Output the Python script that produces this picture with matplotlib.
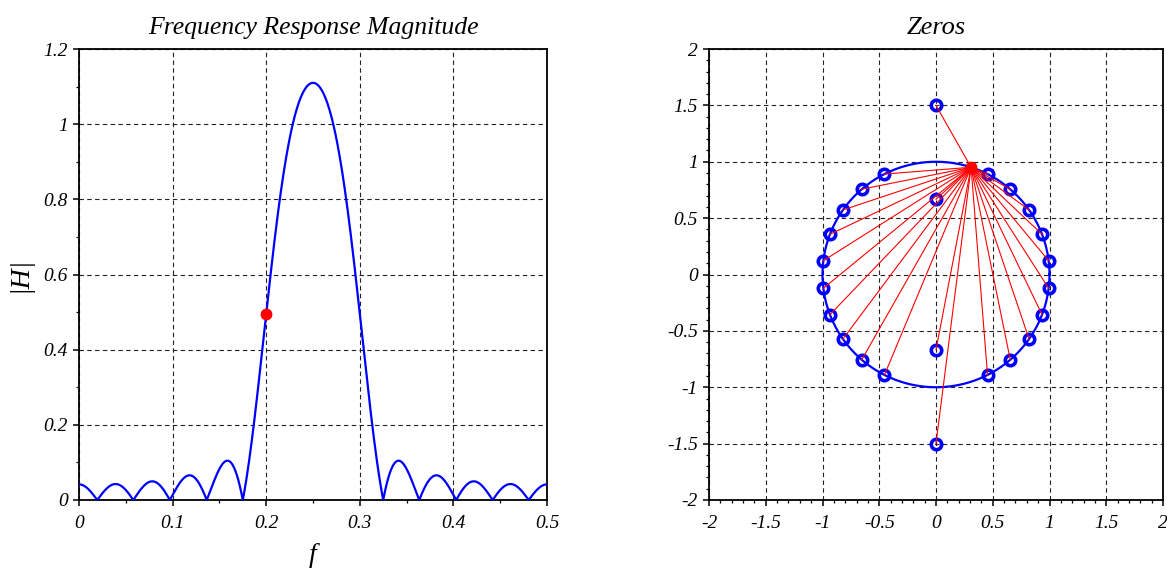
import numpy as np
import matplotlib
matplotlib.use("Agg")
import matplotlib.pyplot as plt
from matplotlib.ticker import FixedLocator, MultipleLocator

plt.rcParams['font.family'] = ['Liberation Serif', 'DejaVu Serif']
plt.rcParams['axes.unicode_minus'] = False

# ---- data ----
# null frequencies (zeros on the unit circle, upper half plane)
null_f_low = [0.0195, 0.058, 0.097, 0.1365, 0.175]
null_f_high = [0.325, 0.3635, 0.403, 0.442, 0.4805]
# zeros on the imaginary axis (radii, both signs)
imag_zero_radii = [0.667, 1.5]
peak_gain = 1.11          # |H| at the passband peak
probe_f = 0.2             # highlighted frequency (red dot)

left_xticks = [0, 0.1, 0.2, 0.3, 0.4, 0.5]
left_xlabels = ['0', '0.1', '0.2', '0.3', '0.4', '0.5']
left_yticks = [0, 0.2, 0.4, 0.6, 0.8, 1.0, 1.2]
left_ylabels = ['0', '0.2', '0.4', '0.6', '0.8', '1', '1.2']
right_ticks = [-2, -1.5, -1, -0.5, 0, 0.5, 1, 1.5, 2]
right_labels = ['-2', '-1.5', '-1', '-0.5', '0', '0.5', '1', '1.5', '2']

# ---- build zeros ----
null_f = np.array(null_f_low + null_f_high)
zeros = list(np.exp(2j * np.pi * null_f)) + list(np.exp(-2j * np.pi * null_f))
for r in imag_zero_radii:
    zeros += [1j * r, -1j * r]
zeros = np.array(zeros)

f = np.linspace(0, 0.5, 2001)
def mag(freq):
    zz = np.exp(2j * np.pi * np.atleast_1d(freq))
    return np.abs(np.prod(zz[:, None] - zeros[None, :], axis=1))
H = mag(f)
K = peak_gain / H.max()
H = K * H
Hp = K * mag(probe_f)[0]
zp = np.exp(2j * np.pi * probe_f)

# ---- figure ----
W, Hh = 1167, 569
fig = plt.figure(figsize=(W / 100, Hh / 100), dpi=100)
axL = fig.add_axes([79 / W, (Hh - 500) / Hh, 468 / W, 451 / Hh])
axR = fig.add_axes([709 / W, (Hh - 500) / Hh, 454 / W, 451 / Hh])

tick_font = dict(fontsize=14, fontstyle='italic')
grid_kw = dict(color='#222222', linestyle=(0, (4, 3)), linewidth=0.8)

def style(ax):
    for s in ax.spines.values():
        s.set_linewidth(1.3)
    ax.tick_params(which='major', direction='out', length=4, width=1.1,
                   top=False, right=False, pad=4)
    ax.tick_params(which='minor', direction='out', length=2.5, width=0.9,
                   top=False, right=False)
    ax.grid(True, which='major', **grid_kw)
    ax.set_axisbelow(True)

# left panel
axL.plot(f, H, color='#0000ff', lw=1.6, zorder=3)
axL.plot([probe_f], [Hp], 'o', color='#ff0000', ms=7.5, zorder=4)
axL.set_xlim(0, 0.5)
axL.set_ylim(0, 1.2)
axL.xaxis.set_major_locator(FixedLocator(left_xticks))
axL.yaxis.set_major_locator(FixedLocator(left_yticks))
axL.set_xticklabels(left_xlabels, **tick_font)
axL.set_yticklabels(left_ylabels, **tick_font)
axL.xaxis.set_minor_locator(MultipleLocator(0.05))
axL.yaxis.set_minor_locator(MultipleLocator(0.1))
style(axL)
axL.tick_params(axis='x', which='major', pad=7)
axL.set_title('Frequency Response Magnitude', fontsize=18.5, fontstyle='italic', pad=11)
axL.set_xlabel('f', fontsize=20, fontstyle='italic')
axL.set_ylabel('|H|', fontsize=20, fontstyle='italic')
axL.xaxis.set_label_coords(0.5, -0.095)
axL.yaxis.set_label_coords(-0.10, 0.5)

# right panel
t = np.linspace(0, 2 * np.pi, 400)
axR.plot(np.cos(t), np.sin(t), color='#0000ff', lw=1.6, zorder=2)
for z in zeros:
    axR.plot([zp.real, z.real], [zp.imag, z.imag], color='#ff0000', lw=0.8, zorder=4)
axR.plot(zeros.real, zeros.imag, 'o', mfc='none', mec='#0000ff', mew=2.6, ms=7.5,
         linestyle='none', zorder=3)
axR.plot([zp.real], [zp.imag], 'o', color='#ff0000', ms=7.5, zorder=5)
axR.set_xlim(-2, 2)
axR.set_ylim(-2, 2)
axR.xaxis.set_major_locator(FixedLocator(right_ticks))
axR.yaxis.set_major_locator(FixedLocator(right_ticks))
axR.set_xticklabels(right_labels, **tick_font)
axR.set_yticklabels(right_labels, **tick_font)
axR.xaxis.set_minor_locator(MultipleLocator(0.1))
axR.yaxis.set_minor_locator(MultipleLocator(0.1))
style(axR)
axR.tick_params(axis='x', which='major', pad=7)
axR.set_title('Zeros', fontsize=19, fontstyle='italic', pad=11)

fig.savefig('out.png', dpi=100)
